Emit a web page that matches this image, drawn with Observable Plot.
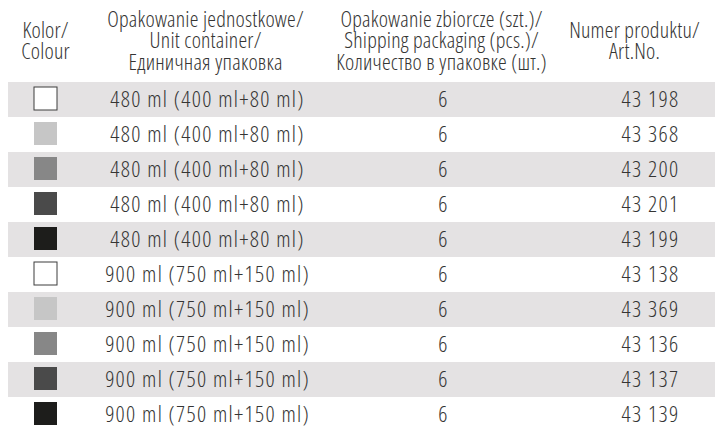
<!DOCTYPE html>
<html>
<head>
<meta charset="utf-8">
<script src="https://cdn.jsdelivr.net/npm/d3@7"></script>
<script src="https://cdn.jsdelivr.net/npm/@observablehq/plot@0.6"></script>
<style>
  html, body { margin: 0; padding: 0; background: #fff; overflow: hidden; }
</style>
</head>
<body>
<div id="chart"></div>
<script>
// ---- data ----
const swatchColors = ["#ffffff", "#c6c6c6", "#878787", "#4a4a4a", "#1d1d1b",
                      "#ffffff", "#c6c6c6", "#878787", "#4a4a4a", "#1d1d1b"];
const unitContainers = ["480 ml (400 ml+80 ml)", "480 ml (400 ml+80 ml)", "480 ml (400 ml+80 ml)",
                        "480 ml (400 ml+80 ml)", "480 ml (400 ml+80 ml)",
                        "900 ml (750 ml+150 ml)", "900 ml (750 ml+150 ml)", "900 ml (750 ml+150 ml)",
                        "900 ml (750 ml+150 ml)", "900 ml (750 ml+150 ml)"];
const packQty = [6, 6, 6, 6, 6, 6, 6, 6, 6, 6];
const articleNos = ["43 198", "43 368", "43 200", "43 201", "43 199",
                    "43 138", "43 369", "43 136", "43 137", "43 139"];
const headers = [
  "Kolor/\nColour",
  "Opakowanie jednostkowe/\nUnit container/\nЕдиничная упаковка",
  "Opakowanie zbiorcze (szt.)/\nShipping packaging (pcs.)/\nКоличество в упаковке (шт.)",
  "Numer produktu/\nArt.No."
];

// ---- layout ----
const W = 715, H = 427;
const headerX = [45, 205, 441, 634];
const valueX = {swatch: [34, 57], unit: 207, pack: 443, art: 650};
const stripe = [8, 715];
const rowTop = 81, rowH = 35.2;
const textColor = "#353534";
const headerFS = 22, valueFS = 22.5;

const rows = swatchColors.map((c, i) => ({
  i, color: c, unit: unitContainers[i], pack: String(packQty[i]), art: articleNos[i]
}));

const valueText = (field, x) => Plot.text(rows, {
  x, y: "i", text: field, fontSize: valueFS, fontWeight: 300, fill: textColor
});

const plot = Plot.plot({
  width: W, height: H, margin: 0,
  x: {domain: [0, W], range: [0, W], axis: null},
  y: {type: "band", domain: rows.map(d => d.i), range: [rowTop, rowTop + rowH * rows.length], padding: 0, axis: null},
  color: {type: "identity"},
  style: {fontFamily: "'Open Sans', sans-serif", background: "#fff", overflow: "hidden"},
  marks: [
    Plot.barX(rows.filter(d => d.i % 2 === 0), {x1: stripe[0], x2: stripe[1], y: "i", fill: "#e4e2e3"}),
    Plot.barX(rows, {x1: valueX.swatch[0], x2: valueX.swatch[1], y: "i", fill: d => d.color,
      stroke: d => d.color === "#ffffff" ? "#3c3c3c" : "none", strokeWidth: 1, insetTop: 5, insetBottom: 7}),
    valueText("unit", valueX.unit),
    valueText("pack", valueX.pack),
    valueText("art", valueX.art),
    Plot.text(headers, {x: (d, i) => headerX[i], frameAnchor: "top", dy: 41, text: d => d,
      lineAnchor: "middle", lineHeight: 0.98, fontSize: headerFS, fontWeight: 300, fill: textColor})
  ]
});
// condensed width (Open Sans variable width axis); values get looser tracking
plot.querySelectorAll("text").forEach(t => {
  t.style.fontStretch = "75%";
  t.style.letterSpacing = t.querySelector("tspan") ? "0.2px" : "1.3px";
});
document.getElementById("chart").appendChild(plot);
</script>
</body>
</html>
